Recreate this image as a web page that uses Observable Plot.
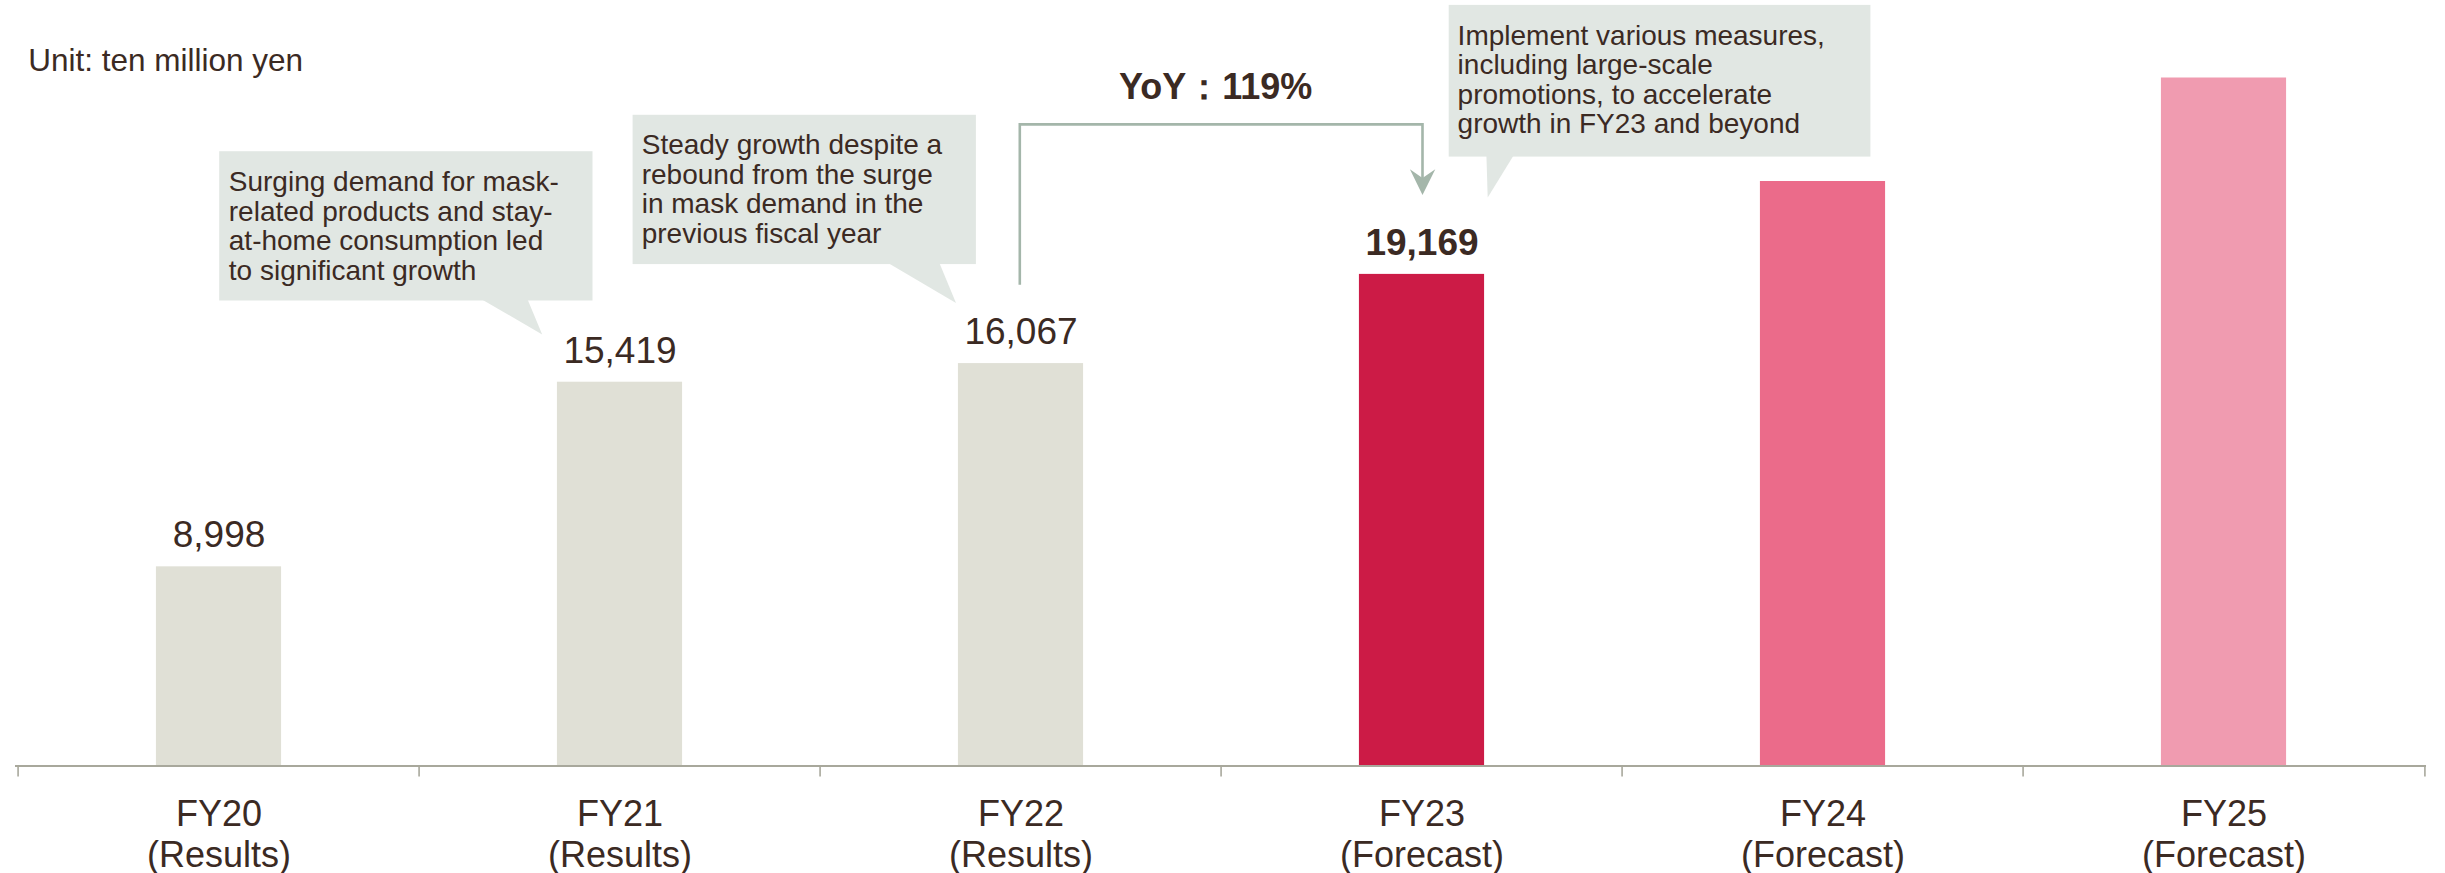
<!DOCTYPE html>
<html>
<head>
<meta charset="utf-8">
<script src="https://cdn.jsdelivr.net/npm/d3@7"></script>
<script src="https://cdn.jsdelivr.net/npm/@observablehq/plot@0.6"></script>
<style>
  html, body { margin: 0; padding: 0; background: #ffffff; }
  #chart svg { display: block; }
</style>
</head>
<body>
<div id="chart"></div>
<script>
// ---------- data ----------
const categories   = ["FY20", "FY21", "FY22", "FY23", "FY24", "FY25"];
const periodLabels = ["(Results)", "(Results)", "(Results)", "(Forecast)", "(Forecast)", "(Forecast)"];
const sales        = [8998, 15419, 16067, 19169, 22400, 26000];   // FY24, FY25 (unlabelled)
const valueLabels  = ["8,998", "15,419", "16,067", "19,169", "", ""];
const highlighted  = "FY23";
const unitLabel    = "Unit: ten million yen";
const yoyLabel     = "YoY：119%";
const yoyFrom      = "FY22";
const yoyTo        = "FY23";
const calloutBars  = ["FY21", "FY22", "FY23"];
const calloutTexts = [
  "Surging demand for mask-\nrelated products and stay-\nat-home consumption led\nto significant growth",
  "Steady growth despite a\nrebound from the surge\nin mask demand in the\nprevious fiscal year",
  "Implement various measures,\nincluding large-scale\npromotions, to accelerate\ngrowth in FY23 and beyond"
];
const axisBase = 2070;   // value at the baseline of the (truncated) value axis
const axisTop  = 28000;

// ---------- styles / layout ----------
const barColors = {FY20: "#e0e0d6", FY21: "#e0e0d6", FY22: "#e0e0d6", FY23: "#cc1b46", FY24: "#eb6b8a", FY25: "#f09bb0"};
const textColor  = "#3b2a23";
const axisColor  = "#a8a89c";
const boxColor   = "#e1e7e3";
const arrowColor = "#a4b6aa";
const FONT = "'Liberation Sans', Arial, Helvetica, sans-serif";

const W = 2445, H = 873;
const M = {top: 20, right: 19, bottom: 107.5, left: 15};
const bandStep = (W - M.left - M.right) / categories.length;
const barWidth = 126;
const barInset = (bandStep - barWidth) / 2;

// callout geometry: pixel offsets relative to (bar centre, bar top)
const calloutLayout = [
  {box: [-400.3, -230.5, -27, -81.2],  tail: [[-138, -82.5], [-92, -82.5], [-77.3, -47.2]], text: [-391.2, -212.2]},
  {box: [-387.9, -248.3, -44.6, -99],  tail: [[-132.8, -100.3], [-81.2, -100.3], [-64.5, -60]], text: [-379.3, -230.6]},
  {box: [27.2, -269, 448.9, -117.3],   tail: [[64.9, -118.6], [92.2, -118.6], [66.2, -76.3]], text: [35.6, -250.7]}
];

const rows = categories.map((c, i) => ({
  cat: c, value: sales[i], label: valueLabels[i], color: barColors[c], period: periodLabels[i]
}));
const periodOf = new Map(categories.map((c, i) => [c, periodLabels[i]]));
const valueOf = new Map(categories.map((c, i) => [c, sales[i]]));
const calloutRows = calloutBars.map((c, i) => ({cat: c, value: valueOf.get(c), text: calloutTexts[i], L: calloutLayout[i]}));

// ---------- custom render: callout boxes & YoY connector ----------
function annotations(index, scales) {
  const x = scales.x, y = scales.y;
  const half = x.bandwidth ? x.bandwidth() / 2 : 0;
  const cx = c => x(c) + half;
  const cy = c => y(valueOf.get(c));
  const g = d3.create("svg:g");
  calloutRows.forEach(r => {
    const ax = cx(r.cat), ay = cy(r.cat), L = r.L;
    g.append("rect")
      .attr("x", ax + L.box[0]).attr("y", ay + L.box[1])
      .attr("width", L.box[2] - L.box[0]).attr("height", L.box[3] - L.box[1])
      .attr("fill", boxColor);
    g.append("path")
      .attr("d", "M" + L.tail.map(p => (ax + p[0]) + "," + (ay + p[1])).join("L") + "Z")
      .attr("fill", boxColor);
  });
  // YoY connector
  const x0 = cx(yoyFrom) - 0.7, y0 = cy(yoyFrom) - 78.3;
  const x1 = cx(yoyTo) + 1, yTop = cy(yoyTo) - 149.5, yTip = cy(yoyTo) - 79;
  g.append("path")
    .attr("d", `M${x0},${y0}V${yTop}H${x1}V${yTip - 14}`)
    .attr("fill", "none").attr("stroke", arrowColor).attr("stroke-width", 2.6);
  g.append("path")
    .attr("d", `M${x1},${yTip}L${x1 - 12.6},${yTip - 25.7}L${x1},${yTip - 17}L${x1 + 12.8},${yTip - 25.7}Z`)
    .attr("fill", arrowColor);
  return g.node();
}

// ---------- chart ----------
const chart = Plot.plot({
  width: W,
  height: H,
  marginTop: M.top,
  marginRight: M.right,
  marginBottom: M.bottom,
  marginLeft: M.left,
  style: {fontFamily: FONT, background: "#ffffff", color: textColor, overflow: "visible"},
  x: {type: "band", domain: categories, padding: 0, label: null},
  y: {domain: [axisBase, axisTop], axis: null},
  color: {type: "identity"},
  marks: [
    Plot.barY(rows, {x: "cat", y1: axisBase, y2: "value", fill: "color", insetLeft: barInset, insetRight: barInset}),
    Plot.ruleY([axisBase], {stroke: axisColor, strokeWidth: 2.2}),
    // boundary ticks between categories
    Plot.axisX({ticks: categories, tickSize: 11, fill: "none", stroke: axisColor, strokeWidth: 1.6, dx: -bandStep / 2, label: null}),
    Plot.axisX({ticks: [categories[categories.length - 1]], tickSize: 11, fill: "none", stroke: axisColor, strokeWidth: 1.6, dx: bandStep / 2, label: null}),
    // category labels
    Plot.axisX({
      tickSize: 0, tickPadding: 30.5, fontSize: 36, lineHeight: 1.15, fill: textColor, label: null,
      tickFormat: d => `${d}\n${periodOf.get(d)}`
    }),
    // annotations (boxes, tails, connector)
    annotations,
    // value labels
    Plot.text(rows.filter(d => d.label && d.cat !== highlighted), {
      x: "cat", y: "value", text: "label", dy: -19.5, lineAnchor: "bottom",
      fontSize: 37, fill: textColor
    }),
    Plot.text(rows.filter(d => d.label && d.cat === highlighted), {
      x: "cat", y: "value", text: "label", dy: -19.5, lineAnchor: "bottom",
      fontSize: 37, fontWeight: "bold", fill: textColor
    }),
    // callout texts
    ...calloutRows.map(r => Plot.text([r], {
      x: "cat", y: "value", text: "text", dx: r.L.text[0], dy: r.L.text[1],
      textAnchor: "start", lineAnchor: "top", fontSize: 28, lineHeight: 1.057, fill: textColor
    })),
    // YoY label
    Plot.text([{cat: yoyTo, value: valueOf.get(yoyTo), text: yoyLabel}], {
      x: "cat", y: "value", text: "text", dx: -206.4, dy: -175, lineAnchor: "bottom",
      textAnchor: "middle", fontSize: 36, fontWeight: "bold", fill: textColor
    }),
    // unit label
    Plot.text([unitLabel], {
      frameAnchor: "top-left", textAnchor: "start", lineAnchor: "top",
      dx: 12.7, dy: 28, fontSize: 31.5, fill: textColor
    })
  ]
});

document.getElementById("chart").appendChild(chart);
</script>
</body>
</html>
